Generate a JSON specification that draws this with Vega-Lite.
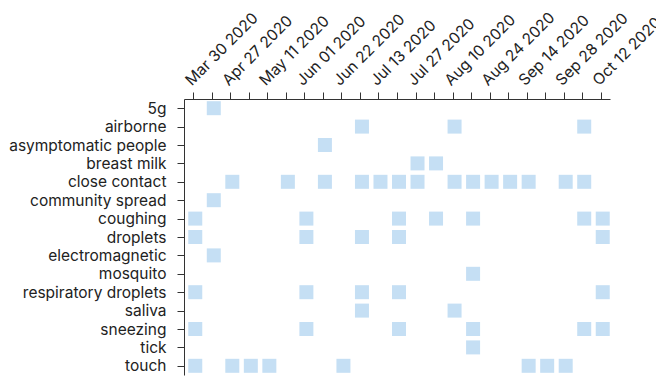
{
  "$schema": "https://vega.github.io/schema/vega-lite/v6.json",
  "autosize": "none",
  "padding": {"left": 184, "top": 99, "right": 46, "bottom": 3},
  "width": 426,
  "height": 276,
  "config": {
    "view": {"stroke": null},
    "font": "Inter",
    "axis": {"labelFont": "Inter", "labelFontSize": 15.5, "labelColor": "#222", "domainColor": "#333", "tickColor": "#333", "grid": false, "title": null}
  },
  "data": {"values": [
    {"term": "5g", "week": "Apr 13 2020"},
    {"term": "airborne", "week": "Jun 29 2020"},
    {"term": "airborne", "week": "Aug 10 2020"},
    {"term": "airborne", "week": "Oct 05 2020"},
    {"term": "asymptomatic people", "week": "Jun 08 2020"},
    {"term": "breast milk", "week": "Jul 27 2020"},
    {"term": "breast milk", "week": "Aug 03 2020"},
    {"term": "close contact", "week": "Apr 27 2020"},
    {"term": "close contact", "week": "May 18 2020"},
    {"term": "close contact", "week": "Jun 08 2020"},
    {"term": "close contact", "week": "Jun 29 2020"},
    {"term": "close contact", "week": "Jul 13 2020"},
    {"term": "close contact", "week": "Jul 20 2020"},
    {"term": "close contact", "week": "Jul 27 2020"},
    {"term": "close contact", "week": "Aug 10 2020"},
    {"term": "close contact", "week": "Aug 17 2020"},
    {"term": "close contact", "week": "Aug 24 2020"},
    {"term": "close contact", "week": "Sep 07 2020"},
    {"term": "close contact", "week": "Sep 14 2020"},
    {"term": "close contact", "week": "Sep 28 2020"},
    {"term": "close contact", "week": "Oct 05 2020"},
    {"term": "community spread", "week": "Apr 13 2020"},
    {"term": "coughing", "week": "Mar 30 2020"},
    {"term": "coughing", "week": "Jun 01 2020"},
    {"term": "coughing", "week": "Jul 20 2020"},
    {"term": "coughing", "week": "Aug 03 2020"},
    {"term": "coughing", "week": "Aug 17 2020"},
    {"term": "coughing", "week": "Oct 05 2020"},
    {"term": "coughing", "week": "Oct 12 2020"},
    {"term": "droplets", "week": "Mar 30 2020"},
    {"term": "droplets", "week": "Jun 01 2020"},
    {"term": "droplets", "week": "Jun 29 2020"},
    {"term": "droplets", "week": "Jul 20 2020"},
    {"term": "droplets", "week": "Oct 12 2020"},
    {"term": "electromagnetic", "week": "Apr 13 2020"},
    {"term": "mosquito", "week": "Aug 17 2020"},
    {"term": "respiratory droplets", "week": "Mar 30 2020"},
    {"term": "respiratory droplets", "week": "Jun 01 2020"},
    {"term": "respiratory droplets", "week": "Jun 29 2020"},
    {"term": "respiratory droplets", "week": "Jul 20 2020"},
    {"term": "respiratory droplets", "week": "Oct 12 2020"},
    {"term": "saliva", "week": "Jun 29 2020"},
    {"term": "saliva", "week": "Aug 10 2020"},
    {"term": "sneezing", "week": "Mar 30 2020"},
    {"term": "sneezing", "week": "Jun 01 2020"},
    {"term": "sneezing", "week": "Jul 20 2020"},
    {"term": "sneezing", "week": "Aug 17 2020"},
    {"term": "sneezing", "week": "Oct 05 2020"},
    {"term": "sneezing", "week": "Oct 12 2020"},
    {"term": "tick", "week": "Aug 17 2020"},
    {"term": "touch", "week": "Mar 30 2020"},
    {"term": "touch", "week": "Apr 27 2020"},
    {"term": "touch", "week": "May 04 2020"},
    {"term": "touch", "week": "May 11 2020"},
    {"term": "touch", "week": "Jun 22 2020"},
    {"term": "touch", "week": "Sep 14 2020"},
    {"term": "touch", "week": "Sep 21 2020"},
    {"term": "touch", "week": "Sep 28 2020"}
  ]},
  "mark": {"type": "square", "size": 196, "filled": true, "opacity": 1, "color": "#c5dff4", "xOffset": 2},
  "encoding": {
    "x": {
      "field": "week", "type": "ordinal",
      "sort": ["Mar 30 2020", "Apr 13 2020", "Apr 27 2020", "May 04 2020", "May 11 2020", "May 18 2020", "Jun 01 2020", "Jun 08 2020", "Jun 22 2020", "Jun 29 2020", "Jul 13 2020", "Jul 20 2020", "Jul 27 2020", "Aug 03 2020", "Aug 10 2020", "Aug 17 2020", "Aug 24 2020", "Sep 07 2020", "Sep 14 2020", "Sep 21 2020", "Sep 28 2020", "Oct 05 2020", "Oct 12 2020"],
      "axis": {
        "orient": "top", "labelAngle": -45, "labelOverlap": false, "tickSize": 7, "labelPadding": 4,
        "labelExpr": "indexof(['Mar 30 2020','Apr 27 2020','May 11 2020','Jun 01 2020','Jun 22 2020','Jul 13 2020','Jul 27 2020','Aug 10 2020','Aug 24 2020','Sep 14 2020','Sep 28 2020','Oct 12 2020'], datum.label) >= 0 ? datum.label : ''"
      }
    },
    "y": {
      "field": "term", "type": "nominal",
      "axis": {"tickSize": 7, "labelPadding": 11}
    }
  }
}
